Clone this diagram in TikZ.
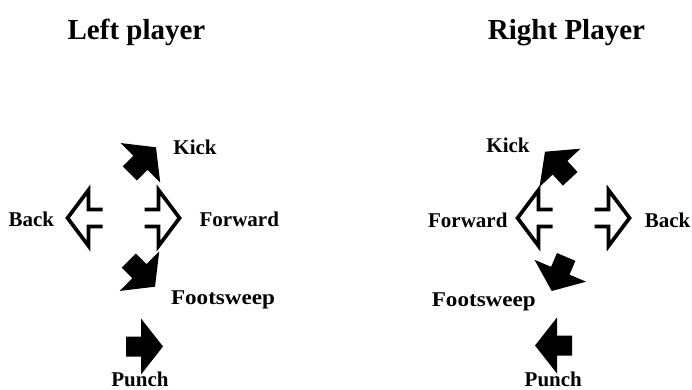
\documentclass[tikz,border=0pt]{standalone}
\usepackage{fontspec}
\setmainfont{Liberation Serif}
\begin{document}
\begin{tikzpicture}[x=1pt,y=-1pt,
  title/.style={anchor=base,inner sep=0pt,font=\fontsize{29}{34}\selectfont\bfseries},
  lbl/.style={anchor=base,inner sep=0pt,font=\fontsize{21}{25}\selectfont\bfseries},
  widelbl/.style={lbl,xscale=1.1,transform shape},
  solidarrow/.pic={\fill (0,0) -- (-22,28) -- (-22,10) -- (-37,10) -- (-37,-10) -- (-22,-10) -- (-22,-28) -- cycle;},
  hollowarrow/.pic={\draw[line width=3.7pt,line join=miter,miter limit=10]
     (-35,8.5) -- (-21,8.5) -- (-21,28) -- (0,0) -- (-21,-28) -- (-21,-8.5) -- (-35,-8.5);}
]
\useasboundingbox (0,0) rectangle (692,390);
% titles
\node[title] (tl) at (136.5,40) {Left player};
\node[title] (tr) at (566.5,40) {Right Player};
% left player
\pic[rotate=45] at (156,147.3) {solidarrow};
\pic[rotate=-45] at (155,286.7) {solidarrow};
\pic[rotate=0] at (163,346.5) {solidarrow};
\pic[rotate=180] at (67.5,218) {hollowarrow};
\pic[rotate=0] at (179.5,218) {hollowarrow};
\node[lbl] (lkick) at (195,154) {Kick};
\node[lbl] (lback) at (31.3,226) {Back};
\node[lbl] (lfwd) at (239.3,226) {Forward};
\node[widelbl] (lfoot) at (223,304.5) {Footsweep};
\node[lbl] (lpunch) at (140,386.5) {Punch};
% right player
\pic[rotate=133] at (545,151.7) {solidarrow};
\pic[rotate=-113] at (551.7,291) {solidarrow};
\pic[rotate=180] at (535,345.5) {solidarrow};
\pic[rotate=180] at (517.5,218) {hollowarrow};
\pic[rotate=0] at (629.5,218) {hollowarrow};
\node[lbl] (rkick) at (508,153) {Kick};
\node[lbl] (rfwd) at (467.8,227) {Forward};
\node[lbl] (rback) at (667.5,227) {Back};
\node[widelbl] (rfoot) at (483.8,306) {Footsweep};
\node[lbl] (rpunch) at (553.3,386.5) {Punch};
\end{tikzpicture}
\end{document}
